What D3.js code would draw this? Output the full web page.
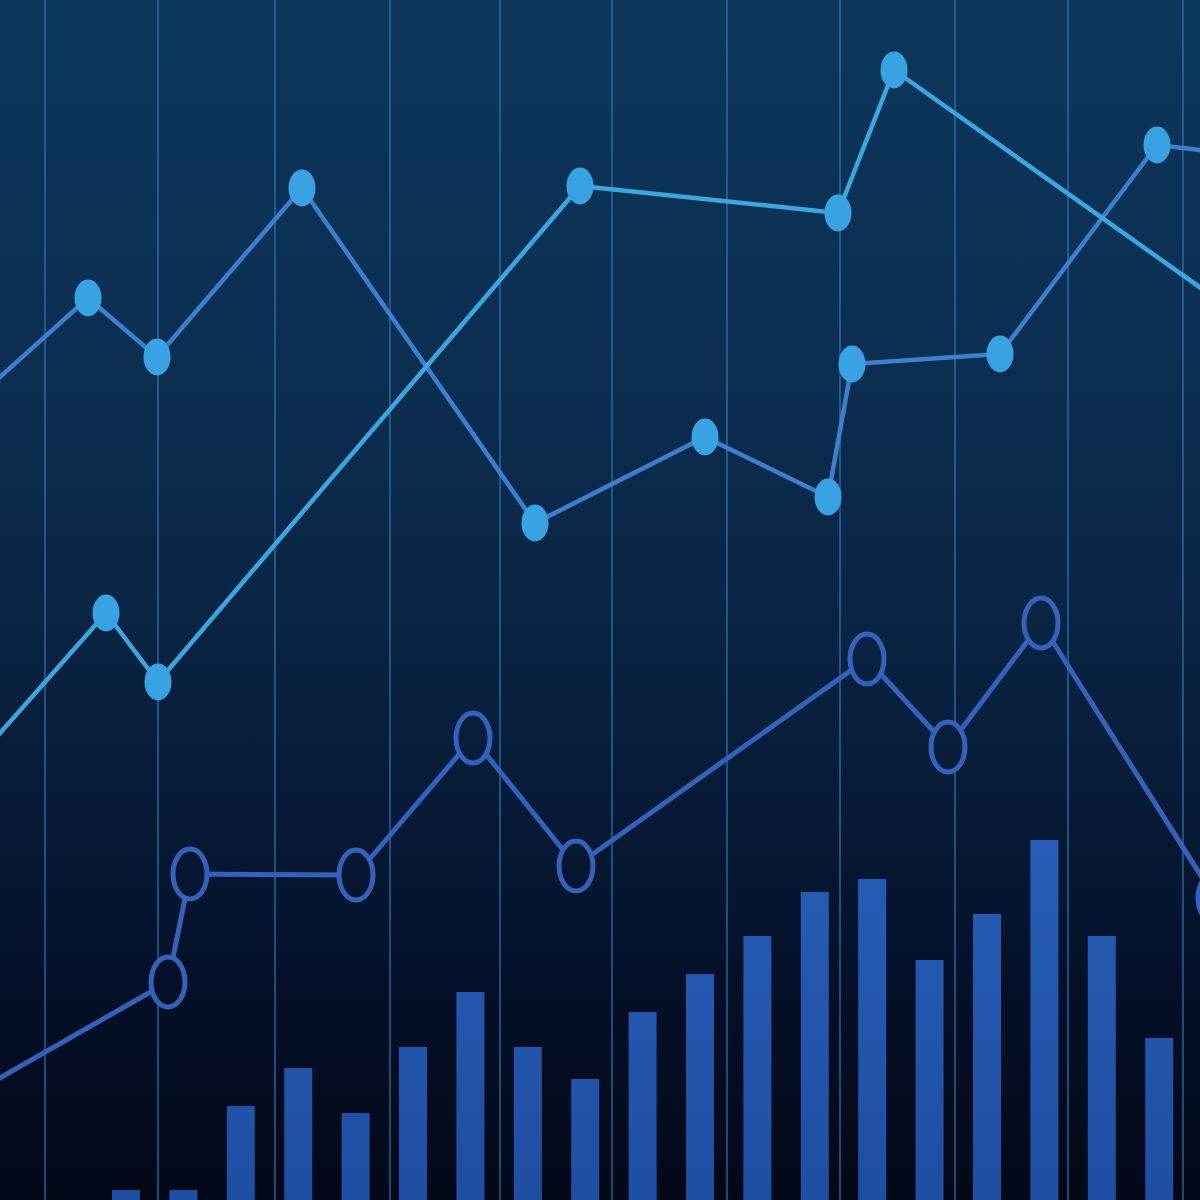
<!DOCTYPE html>
<html>
<head>
<meta charset="utf-8">
<script src="https://cdn.jsdelivr.net/npm/d3@7"></script>
<style>
html,body{margin:0;padding:0;background:#020818;overflow:hidden;}
svg{display:block;}
</style>
</head>
<body>
<svg id="chart" width="1200" height="1200"></svg>
<script>
// ---- data (x in units 0..120, y in units 0..120) ----
const gridTicks = [4.5, 15.8, 27.5, 39.0, 50.0, 61.2, 72.7, 84.0, 95.5, 106.8, 118.3];

const barValues = [1, 1, 9.4, 13.2, 8.7, 15.3, 20.8, 15.3, 12.1, 18.8, 22.6, 26.4, 30.8, 32.1, 24.0, 28.6, 36.0, 26.4, 16.2];

const lineAx = [-6, 8.8, 15.7, 30.2, 53.5, 70.5, 82.8, 85.2, 100.0, 115.7, 126];
const lineAy = [76.9, 90.2, 84.3, 101.2, 67.7, 76.3, 70.3, 83.6, 84.6, 105.5, 104.3];

const lineBx = [-6, 10.6, 15.8, 58.0, 83.8, 89.4, 126];
const lineBy = [39.9, 58.7, 51.8, 101.4, 98.7, 113.0, 87.0];

const lineCx = [-6, 16.8, 19.0, 35.6, 47.3, 57.6, 86.7, 94.8, 104.1, 121.5];
const lineCy = [8.8, 21.8, 32.6, 32.5, 46.2, 33.4, 54.1, 45.3, 57.7, 30.2];

// ---- setup ----
const W = 1200, H = 1200;
const svg = d3.select("#chart");
const x = d3.scaleLinear().domain([0, 120]).range([0, W]);
const y = d3.scaleLinear().domain([0, 120]).range([H, 0]);
const xb = d3.scaleBand().domain(d3.range(barValues.length)).range([112, 1173.2]).paddingInner(0.512).paddingOuter(0);

const defs = svg.append("defs");
const bg = defs.append("linearGradient").attr("id", "bg")
  .attr("gradientUnits", "userSpaceOnUse").attr("x1", 0).attr("y1", 0).attr("x2", 0).attr("y2", H);
[[0, "#0c375b"], [0.33, "#0b2d50"], [0.5, "#0a2545"], [0.67, "#071a37"], [0.83, "#040f28"], [1, "#020817"]]
  .forEach(([o, c]) => bg.append("stop").attr("offset", o).attr("stop-color", c));

const barG = defs.append("linearGradient").attr("id", "barG")
  .attr("gradientUnits", "userSpaceOnUse").attr("x1", 0).attr("y1", 840).attr("x2", 0).attr("y2", H);
barG.append("stop").attr("offset", 0).attr("stop-color", "#275db5");
barG.append("stop").attr("offset", 1).attr("stop-color", "#1e4ea2");

svg.append("rect").attr("width", W).attr("height", H).attr("fill", "url(#bg)");

// grid
svg.append("g").selectAll("line").data(gridTicks).join("line")
  .attr("x1", d => x(d)).attr("x2", d => x(d))
  .attr("y1", 0).attr("y2", H)
  .attr("stroke", "#3282c0").attr("stroke-opacity", 0.55).attr("stroke-width", 2);

// bars
svg.append("g").selectAll("rect").data(barValues).join("rect")
  .attr("x", (d, i) => xb(i)).attr("width", xb.bandwidth())
  .attr("y", d => y(d)).attr("height", d => y(0) - y(d))
  .attr("fill", "url(#barG)");

const line = d3.line().x(d => x(d[0])).y(d => y(d[1]));
const zipPts = (xs, ys) => xs.map((v, i) => [v, ys[i]]);

const ptsC = zipPts(lineCx, lineCy);
const ptsA = zipPts(lineAx, lineAy);
const ptsB = zipPts(lineBx, lineBy);

// line C (hollow markers)
svg.append("path").attr("d", line(ptsC)).attr("fill", "none")
  .attr("stroke", "#3462bb").attr("stroke-width", 5).attr("stroke-linejoin", "round");
svg.append("g").selectAll("ellipse").data(ptsC).join("ellipse")
  .attr("cx", d => x(d[0])).attr("cy", d => y(d[1]))
  .attr("rx", 17).attr("ry", 25)
  .attr("fill", "url(#bg)").attr("stroke", "#3462bb").attr("stroke-width", 5);

// line A
svg.append("path").attr("d", line(ptsA)).attr("fill", "none")
  .attr("stroke", "#3c7fcd").attr("stroke-width", 4.5).attr("stroke-linejoin", "round");

// line B
svg.append("path").attr("d", line(ptsB)).attr("fill", "none")
  .attr("stroke", "#3ba7e0").attr("stroke-width", 4.5).attr("stroke-linejoin", "round");

// filled dots
svg.append("g").selectAll("ellipse").data(ptsA.concat(ptsB)).join("ellipse")
  .attr("cx", d => x(d[0])).attr("cy", d => y(d[1]))
  .attr("rx", 13.5).attr("ry", 18.5)
  .attr("fill", "#39a2e2");
</script>
</body>
</html>
